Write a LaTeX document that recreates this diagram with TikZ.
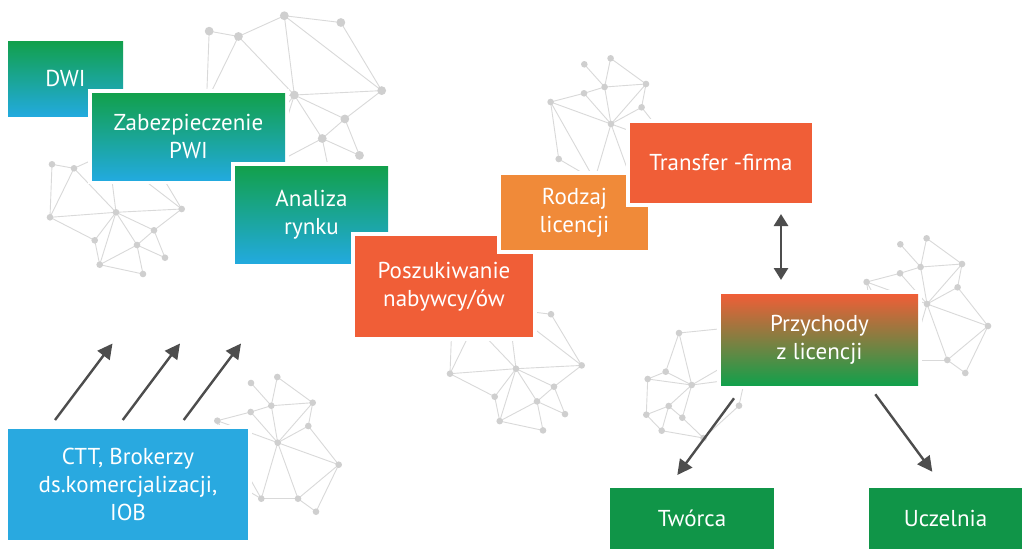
\documentclass[tikz,border=0pt]{standalone}
\usepackage{fontspec}
\setmainfont{PT Sans}
\usetikzlibrary{arrows.meta,calc}

\definecolor{meshline}{HTML}{D9D9D9}
\definecolor{meshdot}{HTML}{CFCFCF}
\definecolor{gtop}{HTML}{12A04B}
\definecolor{gbot}{HTML}{22AADE}
\definecolor{ctblue}{HTML}{29A9E0}
\definecolor{redorange}{HTML}{F05E37}
\definecolor{lightorange}{HTML}{F08A39}
\definecolor{leafgreen}{HTML}{109548}
\definecolor{arrowgray}{HTML}{4D4D4D}

% network motif with a central hub (first variant)
\newcommand\meshA[1]{%
  \foreach \n/\x/\y in {h/0/0, p0/-7.5/-59.6, p1/-64/-48, p2/-42/-44, p3/-66/5,
      p4/35/-54.5, p5/65.7/-3.3, p6/38/18, p7/-21.3/28, p8/21/32.7,
      p9/49/45.4, p10/-16.3/52.4, p11/27/61.7}
    \coordinate (#1\n) at (\x,\y);
  \foreach \a/\b in {p1/p2, p2/p0, p0/p4, p2/h, p0/h, p0/p5, p4/p5, h/p5,
      h/p6, h/p8, p5/p6, p6/p8, p6/p9, p8/p9, p1/p3, p2/p3, p3/h, p3/p7,
      h/p7, h/p10, p7/p10, p8/p10, p8/p11, p10/p11}
    \draw[meshedge] (#1\a) -- (#1\b);
  \foreach \n in {h,p0,p1,p2,p3,p4,p5,p6,p7,p8,p9,p10,p11}
    \fill[meshdot] (#1\n) circle (3.3);
}

% network motif with a central hub (second variant)
\newcommand\meshB[1]{%
  \foreach \n/\x/\y in {h/0/0, b1/-26.7/-59.7, b2/-0.4/-65.7, b3/-6.4/-37,
      b4/-27/-30.7, b5/-60.4/-22, b6/35/-40, b7/30.6/-16.7, b8/-52.3/35,
      b9/61/22, b10/-16.4/56, b11/20.3/56, b12/38.3/69}
    \coordinate (#1\n) at (\x,\y);
  \foreach \a/\b in {b1/b3, b2/b3, b2/b6, b3/b6, b4/b3, b5/b4, b3/h, b4/h,
      b6/b7, b6/h, b7/h, b7/b9, h/b9, h/b10, h/b11, b10/b11, b11/b9,
      b11/b12, b9/b12, b5/h, b5/b8, b5/b10, b8/b10}
    \draw[meshedge] (#1\a) -- (#1\b);
  \foreach \n in {h,b1,b2,b3,b4,b5,b6,b7,b8,b9,b10,b11,b12}
    \fill[meshdot] (#1\n) circle (3.3);
}

\tikzset{
  meshedge/.style={draw=meshline, line width=0.9pt},
  meshdot/.style={fill=meshdot},
  box/.style={anchor=north west, inner sep=0pt, outer sep=0pt,
    align=center, text=white, font=\fontsize{23}{28}\selectfont,
    preaction={draw=white, line width=8pt}},
  arr/.style={draw=arrowgray, line width=2.4pt,
    -{Triangle[length=15pt, width=15pt]}},
  arrboth/.style={draw=arrowgray, line width=2.8pt,
    {Triangle[length=12pt, width=14pt]}-{Triangle[length=12pt, width=14pt]}},
}

\begin{document}
\begin{tikzpicture}[x=1pt, y=-1pt]
  \fill[white] (0,0) rectangle (1022,549);
  \useasboundingbox (0,0) rectangle (1022,549);

  % background networks
  \begin{scope}[shift={(294.3,95)}, scale=1.33] \meshA{ta} \end{scope}
  \begin{scope}[shift={(116,212.3)}] \meshA{la} \end{scope}
  \begin{scope}[shift={(516,368.7)}] \meshA{ma} \end{scope}
  \begin{scope}[shift={(277.7,442.7)}] \meshB{lb} \end{scope}
  \begin{scope}[shift={(611,124)}] \meshB{mb} \end{scope}
  \begin{scope}[shift={(927,304)}] \meshB{rb} \end{scope}

  % small network left of the revenue box
  \foreach \n/\x/\y in {n1/679/333, n2/665.7/371.7, n3/647.7/379,
      n4/691.7/385, n5/668.7/406, n6/646.3/414.7, n7/682.3/417.7,
      n8/661.7/430.7, n9/739/405.7, n10/703.5/438, m1/748/326, m2/752/350,
      m3/745/378}
    \coordinate (\n) at (\x,\y);
  \foreach \a/\b in {n1/m1, n1/n2, n1/n4, n2/n3, n3/n4, n2/n4, n3/n6,
      n4/n5, n4/n7, n4/m2, n5/n6, n5/n8, n6/n8, n5/n7, n7/n10, n8/n10,
      n9/n10, n9/m3, n4/m3}
    \draw[meshedge] (\a) -- (\b);
  \foreach \n in {n1,n2,n3,n4,n5,n6,n7,n8,n9,n10}
    \fill[meshdot] (\n) circle (3.3);

  % process boxes
  \node[box, top color=gtop, bottom color=gbot,
        minimum width=115pt, minimum height=75pt] (dwi) at (8,41) {DWI};
  \node[box, top color=gtop, bottom color=gbot,
        minimum width=193pt, minimum height=87pt] (zab) at (92,93)
        {Zabezpieczenie\\PWI};
  \node[box, top color=gtop, bottom color=gbot,
        minimum width=153pt, minimum height=97pt] (ana) at (235,166)
        {Analiza\\rynku};
  \node[box, fill=redorange,
        minimum width=178pt, minimum height=101pt] (posz) at (355,236)
        {Poszukiwanie\\nabywcy/ów};
  \node[box, fill=lightorange,
        minimum width=147pt, minimum height=75pt] (rodz) at (501,175)
        {Rodzaj\\licencji};
  \node[box, fill=redorange,
        minimum width=182pt, minimum height=80pt] (trans) at (630,123)
        {Transfer -firma};
  \node[box, top color=redorange, bottom color=gtop,
        minimum width=197pt, minimum height=91pt] (prz) at (721,294)
        {Przychody\\z licencji};
  \node[box, fill=ctblue,
        minimum width=240pt, minimum height=111pt] (ctt) at (8,429)
        {CTT, Brokerzy\\ds.komercjalizacji,\\IOB};
  \node[box, fill=leafgreen,
        minimum width=164pt, minimum height=61pt] (twor) at (610,488) {Twórca};
  \node[box, fill=leafgreen,
        minimum width=153pt, minimum height=61pt] (ucz) at (869,488) {Uczelnia};

  % connectors
  \coordinate (c1s) at (55,420);    \coordinate (c1e) at (112.5,343.5);
  \coordinate (c2s) at (122.7,420); \coordinate (c2e) at (180,343.5);
  \coordinate (c3s) at (183.7,420); \coordinate (c3e) at (241,343.5);
  \draw[arr] (c1s) -- (c1e);
  \draw[arr] (c2s) -- (c2e);
  \draw[arr] (c3s) -- (c3e);

  \coordinate (tb) at (781,214);    \coordinate (pt) at (781,280);
  \draw[arrboth] (tb) -- (pt);

  \coordinate (pl) at (734,398.3);  \coordinate (tl) at (677.3,475);
  \coordinate (pr) at (875.3,394.3); \coordinate (ur) at (932.3,471.7);
  \draw[arr] (pl) -- (tl);
  \draw[arr] (pr) -- (ur);
\end{tikzpicture}
\end{document}
